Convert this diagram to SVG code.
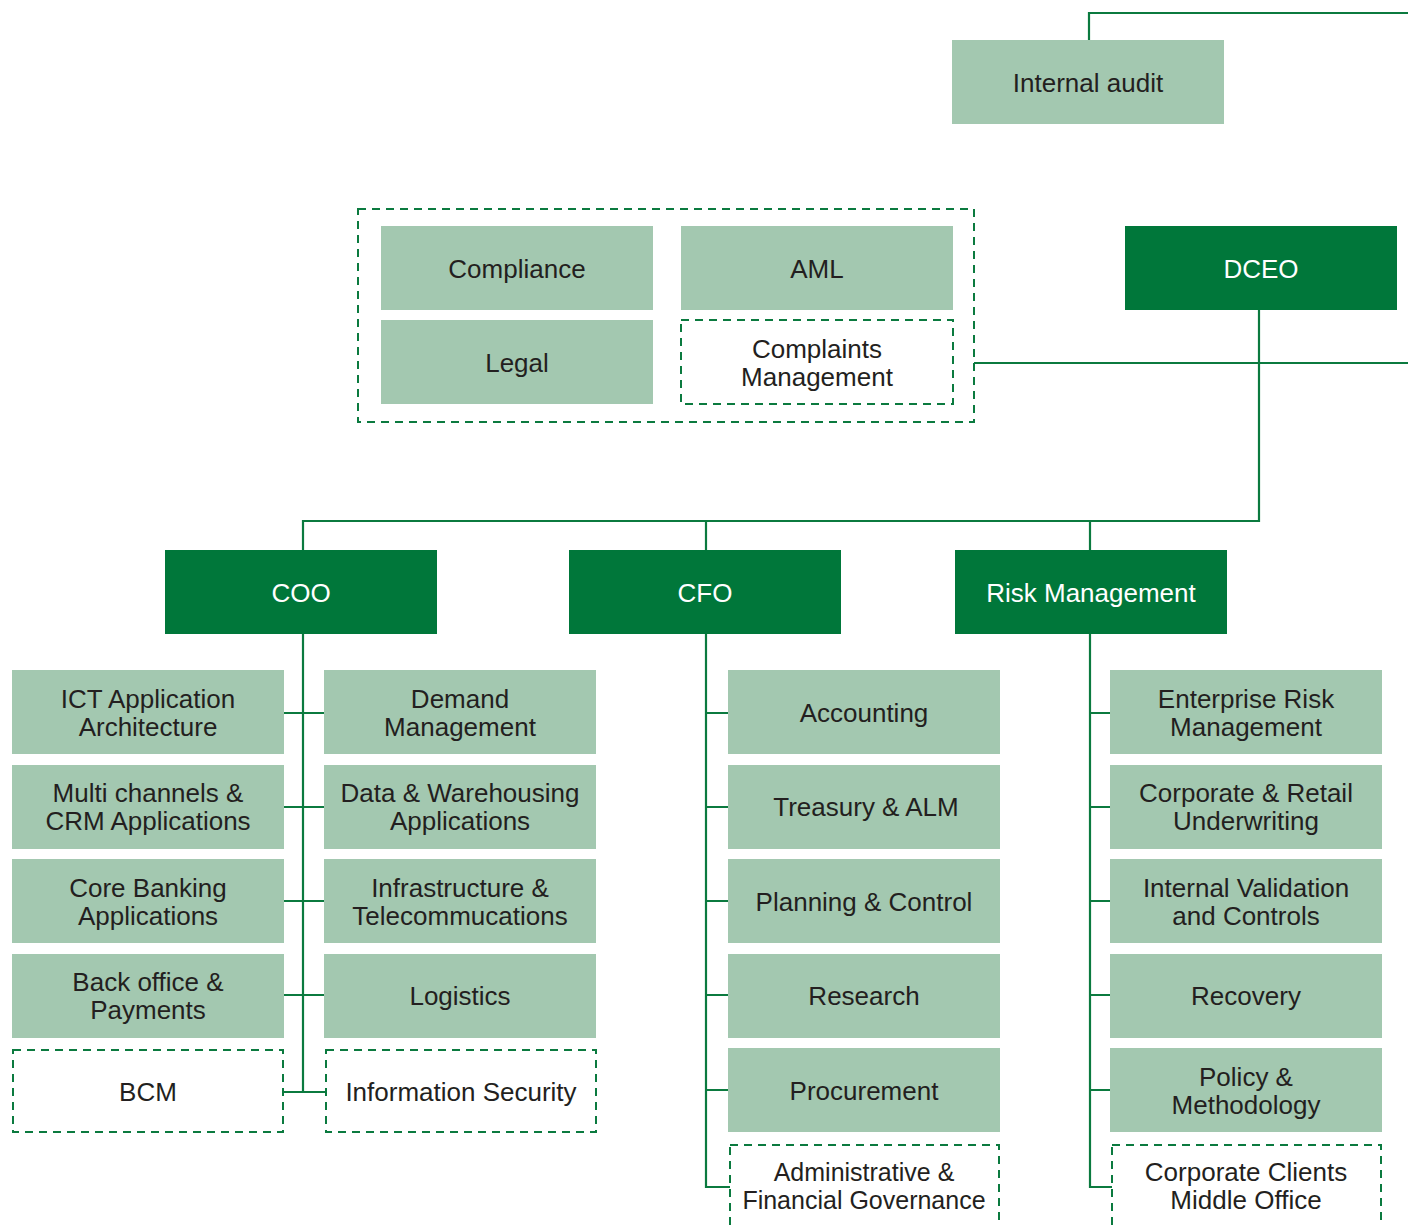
<svg xmlns="http://www.w3.org/2000/svg" width="1408" height="1225" viewBox="0 0 1408 1225">
<style>
.l{fill:#a3c8b0}
.d{fill:#00773a}
.x{fill:#fff;stroke:#0b7a3f;stroke-width:2;stroke-dasharray:8 6}
.c{fill:none;stroke:#0b7a3f;stroke-width:2.2}
text{font-family:"Liberation Sans",Arial,sans-serif;font-size:26px;text-anchor:middle;fill:#231f20}
.w{fill:#fff}
.s{font-size:25px}
</style>
<rect width="1408" height="1225" fill="#fff"/>
<g id="connectors" class="c">
<path d="M1089 40V13H1408"/>
<path d="M974 363H1408"/>
<path d="M1259 310V521H303V550M706 521V550M1090 521V550"/>
<path d="M303 634V1092M284 713H324M284 807H324M284 901H324M284 995H324M284 1092H326"/>
<path d="M706 634V1187H730M706 713H728M706 807H728M706 901H728M706 995H728M706 1090H728"/>
<path d="M1090 634V1187H1112M1090 713H1110M1090 807H1110M1090 901H1110M1090 995H1110M1090 1090H1110"/>
</g>
<g id="internal-audit"><rect class="l" x="952" y="40" width="272" height="84"/><text x="1088" y="92">Internal audit</text></g>
<g id="compliance-group"><rect class="x" x="358" y="209" width="616" height="213"/></g>
<g id="compliance"><rect class="l" x="381" y="226" width="272" height="84"/><text x="517" y="278">Compliance</text></g>
<g id="aml"><rect class="l" x="681" y="226" width="272" height="84"/><text x="817" y="278">AML</text></g>
<g id="legal"><rect class="l" x="381" y="320" width="272" height="84"/><text x="517" y="372">Legal</text></g>
<g id="complaints"><rect class="x" x="681" y="320" width="272" height="84"/><text x="817" y="358">Complaints</text><text x="817" y="386">Management</text></g>
<g id="dceo"><rect class="d" x="1125" y="226" width="272" height="84"/><text class="w" x="1261" y="278">DCEO</text></g>
<g id="coo"><rect class="d" x="165" y="550" width="272" height="84"/><text class="w" x="301" y="602">COO</text></g>
<g id="cfo"><rect class="d" x="569" y="550" width="272" height="84"/><text class="w" x="705" y="602">CFO</text></g>
<g id="risk"><rect class="d" x="955" y="550" width="272" height="84"/><text class="w" x="1091" y="602">Risk Management</text></g>

<g id="ict"><rect class="l" x="12" y="670" width="272" height="84"/><text x="148" y="708">ICT Application</text><text x="148" y="736">Architecture</text></g>
<g id="multi"><rect class="l" x="12" y="765" width="272" height="84"/><text x="148" y="802">Multi channels &amp;</text><text x="148" y="830">CRM Applications</text></g>
<g id="core"><rect class="l" x="12" y="859" width="272" height="84"/><text x="148" y="897">Core Banking</text><text x="148" y="925">Applications</text></g>
<g id="back"><rect class="l" x="12" y="954" width="272" height="84"/><text x="148" y="991">Back office &amp;</text><text x="148" y="1019">Payments</text></g>
<g id="bcm"><rect class="x" x="13" y="1050" width="270" height="82"/><text x="148" y="1101">BCM</text></g>

<g id="demand"><rect class="l" x="324" y="670" width="272" height="84"/><text x="460" y="708">Demand</text><text x="460" y="736">Management</text></g>
<g id="data"><rect class="l" x="324" y="765" width="272" height="84"/><text x="460" y="802">Data &amp; Warehousing</text><text x="460" y="830">Applications</text></g>
<g id="infra"><rect class="l" x="324" y="859" width="272" height="84"/><text x="460" y="897">Infrastructure &amp;</text><text x="460" y="925">Telecommucations</text></g>
<g id="logistics"><rect class="l" x="324" y="954" width="272" height="84"/><text x="460" y="1005">Logistics</text></g>
<g id="infosec"><rect class="x" x="326" y="1050" width="270" height="82"/><text x="461" y="1101">Information Security</text></g>

<g id="accounting"><rect class="l" x="728" y="670" width="272" height="84"/><text x="864" y="722">Accounting</text></g>
<g id="treasury"><rect class="l" x="728" y="765" width="272" height="84"/><text x="866" y="816">Treasury &amp; ALM</text></g>
<g id="planning"><rect class="l" x="728" y="859" width="272" height="84"/><text x="864" y="911">Planning &amp; Control</text></g>
<g id="research"><rect class="l" x="728" y="954" width="272" height="84"/><text x="864" y="1005">Research</text></g>
<g id="procurement"><rect class="l" x="728" y="1048" width="272" height="84"/><text x="864" y="1100">Procurement</text></g>
<g id="admin"><rect class="x" x="730" y="1145" width="269" height="100"/><text class="s" x="864" y="1181">Administrative &amp;</text><text class="s" x="864" y="1209">Financial Governance</text></g>

<g id="erm"><rect class="l" x="1110" y="670" width="272" height="84"/><text x="1246" y="708">Enterprise Risk</text><text x="1246" y="736">Management</text></g>
<g id="underwriting"><rect class="l" x="1110" y="765" width="272" height="84"/><text x="1246" y="802">Corporate &amp; Retail</text><text x="1246" y="830">Underwriting</text></g>
<g id="validation"><rect class="l" x="1110" y="859" width="272" height="84"/><text x="1246" y="897">Internal Validation</text><text x="1246" y="925">and Controls</text></g>
<g id="recovery"><rect class="l" x="1110" y="954" width="272" height="84"/><text x="1246" y="1005">Recovery</text></g>
<g id="policy"><rect class="l" x="1110" y="1048" width="272" height="84"/><text x="1246" y="1086">Policy &amp;</text><text x="1246" y="1114">Methodology</text></g>
<g id="ccmo"><rect class="x" x="1112" y="1145" width="269" height="100"/><text x="1246" y="1181">Corporate Clients</text><text x="1246" y="1209">Middle Office</text></g>
</svg>
